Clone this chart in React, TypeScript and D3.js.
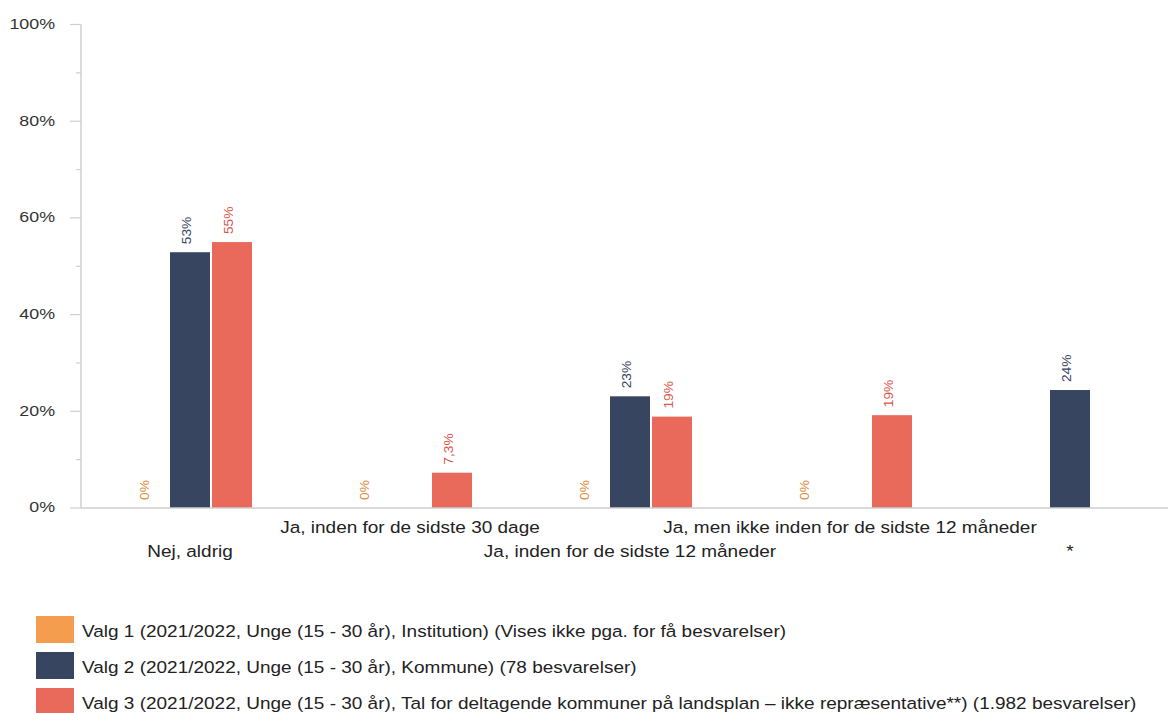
import React from "react";
import * as d3 from "d3";

const categories = [
  "Nej, aldrig",
  "Ja, inden for de sidste 30 dage",
  "Ja, inden for de sidste 12 måneder",
  "Ja, men ikke inden for de sidste 12 måneder",
  "*",
];
const valg1: (number | null)[] = [0, 0, 0, 0, null];
const valg2: (number | null)[] = [52.9, null, 23.1, null, 24.4];
const valg3: (number | null)[] = [55, 7.3, 18.9, 19.2, null];

const seriesNames = [
  "Valg 1 (2021/2022, Unge (15 - 30 år), Institution) (Vises ikke pga. for få besvarelser)",
  "Valg 2 (2021/2022, Unge (15 - 30 år), Kommune) (78 besvarelser)",
  "Valg 3 (2021/2022, Unge (15 - 30 år), Tal for deltagende kommuner på landsplan – ikke repræsentative**) (1.982 besvarelser)",
];
const seriesColors = ["#F49D4F", "#374560", "#E96A5B"];
const labelColors = ["#E08B3A", "#374560", "#D9564A"];
const yTicks = [0, 20, 40, 60, 80, 100];
const yMinorTicks = [10, 30, 50, 70, 90];

const W = 1168;
const H = 713;
const FONT = "'Liberation Sans', Arial, sans-serif";
const SX = 1.165;

const fmt = (v: number) =>
  (v > 0 && v < 10 ? v.toFixed(1).replace(".", ",") : String(Math.round(v))) + "%";

function SText(props: {
  x: number;
  y: number;
  anchor?: string;
  size: number;
  fill: string;
  children: React.ReactNode;
}) {
  return (
    <text
      transform={`translate(${props.x},${props.y}) scale(${SX},1)`}
      dy="0.35em"
      textAnchor={props.anchor || "start"}
      fontSize={props.size}
      fill={props.fill}
    >
      {props.children}
    </text>
  );
}

export default function App() {
  const series = [valg1, valg2, valg3];
  const x = d3.scaleBand<string>().domain(categories).range([80, 1180]);
  const inner = d3
    .scaleBand<string>()
    .domain(["0", "1", "2"])
    .range([48, 172])
    .paddingInner(2 / 42);
  const y = d3.scaleLinear().domain([0, 100]).range([508, 24.5]);

  return (
    <svg
      width={W}
      height={H}
      style={{ position: "absolute", left: 0, top: 0, background: "#fff" }}
      fontFamily={FONT}
    >
      {/* y axis */}
      <line x1={81} x2={81} y1={y(100)} y2={y(0)} stroke="#cfcfcf" strokeWidth={1.5} />
      {yTicks.map((t) => (
        <g key={"t" + t}>
          <line x1={70} x2={81} y1={y(t)} y2={y(t)} stroke="#cfcfcf" strokeWidth={1.2} />
          <SText x={55} y={y(t) - 1} anchor="end" size={15.3} fill="#333">
            {t}%
          </SText>
        </g>
      ))}
      {yMinorTicks.map((t) => (
        <line key={"m" + t} x1={76} x2={81} y1={y(t)} y2={y(t)} stroke="#cfcfcf" strokeWidth={1.2} />
      ))}
      {/* bars */}
      {series.map((vals, si) =>
        vals.map((v, ci) => {
          if (v === null) return null;
          const bx = (x(categories[ci]) as number) + (inner(String(si)) as number);
          const bw = inner.bandwidth();
          const cx = bx + bw / 2;
          return (
            <g key={si + "-" + ci}>
              {v > 0 && (
                <rect x={bx} y={y(v)} width={bw} height={y(0) - y(v)} fill={seriesColors[si]} />
              )}
              <text
                transform={`translate(${cx + 1},${y(v) - 8}) rotate(-90) scale(1.1,1)`}
                fontSize={12.5}
                fill={labelColors[si]}
              >
                {fmt(v)}
              </text>
            </g>
          );
        })
      )}
      {/* x axis */}
      <line x1={81} x2={W} y1={y(0)} y2={y(0)} stroke="#cfcfcf" strokeWidth={1.5} />
      {categories.map((c, i) => (
        <SText
          key={c}
          x={(x(c) as number) + x.bandwidth() / 2}
          y={i % 2 === 0 ? 551 : 527}
          anchor="middle"
          size={16.3}
          fill="#222"
        >
          {c}
        </SText>
      ))}
      {/* legend */}
      {seriesNames.map((n, i) => (
        <g key={n} transform={`translate(36,${616 + i * 36})`}>
          <rect x={0} y={0} width={38} height={27} fill={seriesColors[i]} />
          <SText x={46} y={15} size={16.3} fill="#222">
            {n}
          </SText>
        </g>
      ))}
    </svg>
  );
}
